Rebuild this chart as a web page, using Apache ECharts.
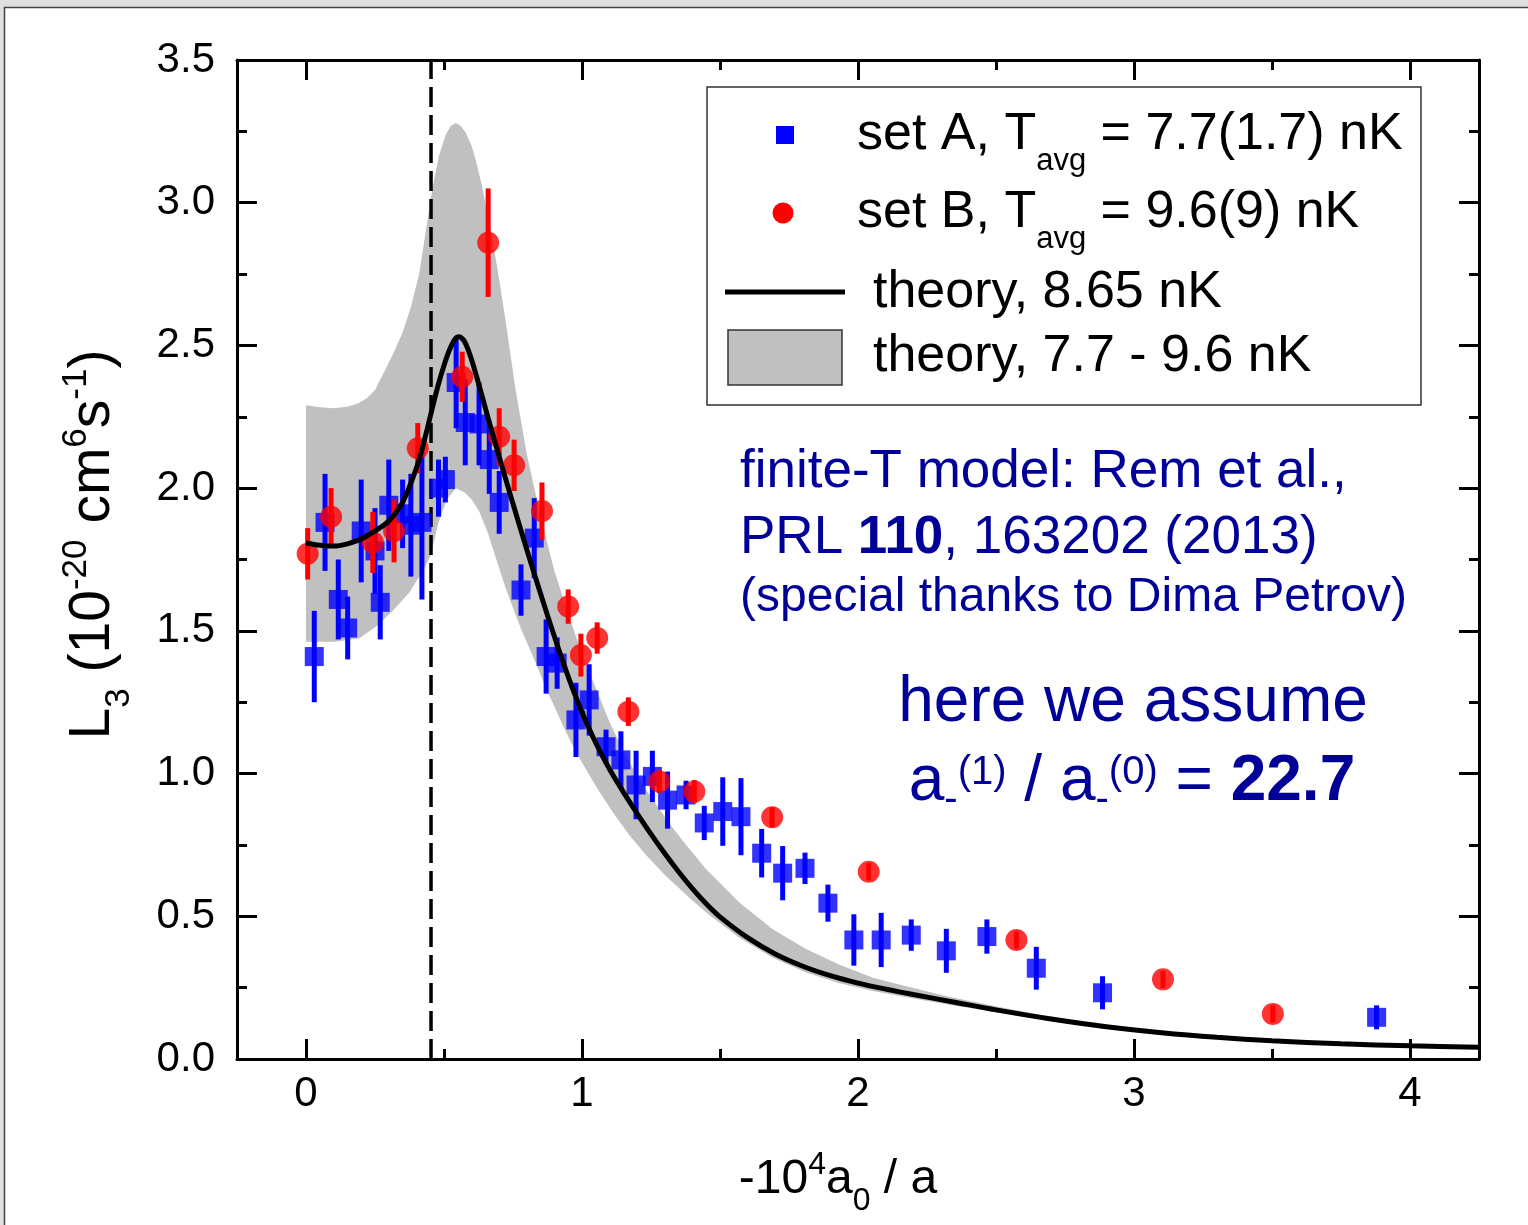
<!DOCTYPE html>
<html><head><meta charset="utf-8">
<script src="https://cdn.jsdelivr.net/npm/echarts@6/dist/echarts.min.js"></script>
<style>html,body{margin:0;padding:0;background:#fff}#c{width:1528px;height:1225px}</style>
</head><body><div id="c"></div><script>
// ---- data ----
const setAX   = [0.030,0.069,0.117,0.151,0.200,0.250,0.269,0.300,0.350,0.380,0.420,0.480,0.505,0.544,0.577,0.627,0.664,0.700,0.779,0.827,0.870,0.910,0.978,1.026,1.087,1.141,1.196,1.255,1.310,1.377,1.443,1.510,1.576,1.651,1.727,1.808,1.891,1.985,2.084,2.193,2.320,2.467,2.646,2.886,3.879];
const setAY   = [1.41,1.88,1.61,1.51,1.85,1.78,1.60,1.94,1.91,1.87,1.88,2.00,2.03,2.37,2.23,2.225,2.10,1.95,1.643,1.825,1.41,1.387,1.188,1.258,1.094,1.048,0.96,0.99,0.907,0.925,0.827,0.867,0.849,0.721,0.651,0.668,0.546,0.417,0.417,0.434,0.379,0.429,0.318,0.232,0.146];
const setAErr = [0.16,0.17,0.14,0.11,0.18,0.15,0.13,0.16,0.12,0.18,0.27,0.10,0.08,0.16,0.15,0.145,0.12,0.11,0.09,0.14,0.13,0.09,0.13,0.125,0.06,0.10,0.12,0.09,0.10,0.05,0.06,0.12,0.135,0.085,0.095,0.055,0.065,0.09,0.095,0.055,0.077,0.06,0.075,0.058,0.042];

const setBX   = [0.006,0.091,0.242,0.319,0.405,0.566,0.660,0.700,0.754,0.855,0.950,0.996,1.055,1.168,1.280,1.407,1.689,2.039,2.574,3.105,3.503];
const setBY   = [1.77,1.90,1.81,1.85,2.14,2.39,2.86,2.18,2.08,1.92,1.585,1.415,1.475,1.217,0.972,0.937,0.847,0.656,0.417,0.279,0.158];
const setBErr = [0.09,0.10,0.107,0.11,0.088,0.088,0.19,0.10,0.09,0.10,0.06,0.075,0.055,0.05,0.04,0.04,0.035,0.03,0.03,0.03,0.03];

const theoryX = [0,0.05,0.10,0.15,0.20,0.25,0.30,0.35,0.40,0.42,0.44,0.46,0.48,0.50,0.52,0.54,0.555,0.575,0.60,0.63,0.66,0.70,0.75,0.80,0.85,0.90,0.95,1.00,1.05,1.10,1.15,1.20,1.25,1.30,1.35,1.40,1.45,1.50,1.60,1.70,1.80,1.90,2.00,2.10,2.20,2.35,2.50,2.70,2.90,3.10,3.30,3.50,3.75,4.00,4.25];
const theoryY = [1.808,1.800,1.797,1.805,1.822,1.850,1.885,1.950,2.070,2.135,2.210,2.290,2.365,2.430,2.485,2.522,2.530,2.513,2.450,2.350,2.245,2.110,1.945,1.785,1.630,1.480,1.340,1.215,1.107,1.015,0.935,0.860,0.788,0.720,0.656,0.597,0.544,0.498,0.425,0.368,0.325,0.292,0.266,0.245,0.226,0.199,0.172,0.140,0.113,0.092,0.076,0.064,0.053,0.046,0.041];

const bandHiX = [0,0.05,0.10,0.15,0.19,0.22,0.25,0.29,0.32,0.35,0.38,0.41,0.434,0.458,0.482,0.507,0.525,0.543,0.56,0.579,0.60,0.615,0.635,0.652,0.67,0.688,0.705,0.724,0.76,0.80,0.85,0.90,0.95,1.00,1.05,1.10,1.159,1.232,1.316,1.365,1.45,1.57,1.691,1.812,1.933,2.054,2.175,2.33,2.513,2.70,2.876,3.05,3.238,3.45,3.662,4.00,4.25];
const bandHi  = [2.29,2.283,2.28,2.285,2.297,2.315,2.344,2.42,2.48,2.545,2.635,2.75,2.90,3.05,3.165,3.24,3.27,3.279,3.27,3.245,3.20,3.15,3.07,2.99,2.90,2.80,2.70,2.58,2.34,2.12,1.90,1.71,1.56,1.42,1.30,1.18,1.06,0.943,0.826,0.765,0.665,0.548,0.455,0.385,0.33,0.285,0.255,0.218,0.182,0.148,0.12,0.10,0.083,0.069,0.059,0.049,0.044];
const bandLoX = [0,0.109,0.193,0.254,0.314,0.375,0.417,0.45,0.48,0.51,0.543,0.575,0.60,0.627,0.66,0.688,0.72,0.748,0.78,0.809,0.84,0.869,0.90,0.93,0.96,0.99,1.051,1.111,1.171,1.232,1.30,1.40,1.45,1.57,1.691,1.812,1.933,2.054,2.175,2.33,2.513,2.70,2.876,3.05,3.238,3.45,3.662,4.00,4.25];
const bandLo  = [1.462,1.462,1.474,1.515,1.57,1.635,1.70,1.76,1.88,1.96,2.0,1.985,1.96,1.92,1.84,1.755,1.66,1.585,1.505,1.44,1.37,1.30,1.235,1.17,1.11,1.055,0.955,0.865,0.785,0.715,0.645,0.555,0.513,0.425,0.355,0.303,0.265,0.238,0.216,0.19,0.162,0.132,0.108,0.09,0.074,0.062,0.053,0.044,0.039];

const resonanceX = 0.453;
const xMajorTicks = [0,1,2,3,4];
const xMinorTicks = [0.5,1.5,2.5,3.5];

// ---- style ----
const FONT = "'Liberation Sans', Arial, sans-serif";
const NAVY = '#000099';

const chart = echarts.init(document.getElementById('c'), null, {renderer:'canvas'});

function errBar(color){
  return function(params, api){
    const x = api.value(0);
    const p1 = api.coord([x, api.value(1)]);
    const p2 = api.coord([x, api.value(2)]);
    return {type:'line', shape:{x1:p1[0], y1:p1[1], x2:p2[0], y2:p2[1]}, style:{stroke:color, lineWidth:5}};
  };
}

const baseX = {type:'value', min:-0.25, max:4.25, splitLine:{show:false}, gridIndex:0};
const lineSt = {color:'#000', width:3};

const option = {
  backgroundColor:'#fff',
  animation:false,
  textStyle:{fontFamily:FONT},
  grid:{left:237, right:49, top:60, bottom:166, outerBoundsMode:'none', containLabel:false},
  xAxis:[
    Object.assign({}, baseX, {position:'bottom',
      axisLine:{show:true, onZero:false, lineStyle:lineSt},
      axisTick:{show:true, inside:true, length:20, lineStyle:lineSt, customValues:xMajorTicks},
      axisLabel:{show:true, customValues:xMajorTicks, fontSize:42, color:'#000', margin:14, fontFamily:FONT},
      name:'{m|-10}{sp|4}{m|a}{sb|0}{m| / a}', nameLocation:'middle', nameGap:81,
      nameTextStyle:{padding:[0,40,0,0], rich:{
        m:{fontSize:48, lineHeight:80, color:'#000', fontFamily:FONT},
        sp:{fontSize:32, lineHeight:32, height:50, verticalAlign:'top', color:'#000', fontFamily:FONT},
        sb:{fontSize:32, lineHeight:32, height:37, verticalAlign:'bottom', color:'#000', fontFamily:FONT}
      }}
    }),
    Object.assign({}, baseX, {position:'bottom',
      axisLine:{show:false, onZero:false},
      axisTick:{show:true, inside:true, length:10, lineStyle:lineSt, customValues:xMinorTicks},
      axisLabel:{show:false}}),
    Object.assign({}, baseX, {position:'top',
      axisLine:{show:true, onZero:false, lineStyle:lineSt},
      axisTick:{show:true, inside:true, length:20, lineStyle:lineSt, customValues:xMajorTicks},
      axisLabel:{show:false}}),
    Object.assign({}, baseX, {position:'top',
      axisLine:{show:false, onZero:false},
      axisTick:{show:true, inside:true, length:10, lineStyle:lineSt, customValues:xMinorTicks},
      axisLabel:{show:false}})
  ],
  yAxis:[
    {type:'value', min:0, max:3.5, interval:0.5, position:'left',
      splitLine:{show:false}, minorSplitLine:{show:false},
      axisLine:{show:true, onZero:false, lineStyle:lineSt},
      axisTick:{show:true, inside:true, length:20, lineStyle:lineSt},
      minorTick:{show:true, splitNumber:2, length:10, lineStyle:lineSt},
      axisLabel:{fontSize:42, color:'#000', margin:22, fontFamily:FONT, formatter:v=>v.toFixed(1)},
      name:'{m|L}{sb|3}{m| (10}{sp|-20}{m| cm}{sp|6}{m|s}{sp|-1}{m|)}', nameLocation:'middle', nameGap:98, nameRotate:90,
      nameTextStyle:{padding:[0,0,0,30], rich:{
        m:{fontSize:57, lineHeight:92, color:'#000', fontFamily:FONT},
        sp:{fontSize:35, lineHeight:35, height:58, verticalAlign:'top', color:'#000', fontFamily:FONT},
        sb:{fontSize:35, lineHeight:35, height:40, verticalAlign:'bottom', color:'#000', fontFamily:FONT}
      }}
    },
    {type:'value', min:0, max:3.5, interval:0.5, position:'right',
      splitLine:{show:false}, minorSplitLine:{show:false},
      axisLine:{show:true, onZero:false, lineStyle:lineSt},
      axisTick:{show:true, inside:true, length:20, lineStyle:lineSt},
      minorTick:{show:true, splitNumber:2, length:10, lineStyle:lineSt},
      axisLabel:{show:false}}
  ],
  series:[
    {name:'theory, 7.7 - 9.6 nK', type:'custom', z:1, silent:true,
      data:[[0,0]],
      renderItem:function(params, api){
        const pts = [];
        bandHiX.forEach((x,i)=>pts.push(api.coord([x, bandHi[i]])));
        for (let i=bandLoX.length-1;i>=0;i--) pts.push(api.coord([bandLoX[i], bandLo[i]]));
        return {type:'polygon', shape:{points:pts}, style:{fill:'#c0c0c0', stroke:null}};
      }},
    {name:'resonance', type:'line', z:2, silent:true, symbol:'none',
      data:[[resonanceX,0],[resonanceX,3.5]],
      lineStyle:{color:'#000', width:3.5, type:[20,8]}},
    {name:'errA', type:'custom', z:3, silent:true,
      data:setAX.map((x,i)=>[x, setAY[i]-setAErr[i], setAY[i]+setAErr[i]]),
      encode:{x:0, y:[1,2]}, renderItem:errBar('#0000ff')},
    {name:'set A', type:'scatter', z:4, symbol:'rect', symbolSize:[19,19],
      itemStyle:{color:'#0000ff'},
      data:setAX.map((x,i)=>[x, setAY[i]])},
    {name:'errB', type:'custom', z:5, silent:true,
      data:setBX.map((x,i)=>[x, setBY[i]-setBErr[i], setBY[i]+setBErr[i]]),
      encode:{x:0, y:[1,2]}, renderItem:errBar('#ff0000')},
    {name:'set B', type:'scatter', z:6, symbol:'circle', symbolSize:22,
      itemStyle:{color:'#ff0000'},
      data:setBX.map((x,i)=>[x, setBY[i]])},
    {name:'theory, 8.65 nK', type:'line', z:7, symbol:'none', smooth:0.3,
      lineStyle:{color:'#000', width:5},
      data:theoryX.map((x,i)=>[x, theoryY[i]])}
  ],
  graphic:[
    // page frame
    {type:'rect', z:0, shape:{x:0,y:0,width:1528,height:7}, style:{fill:'#e0e0e0'}},
    {type:'rect', z:0, shape:{x:0,y:0,width:4,height:1225}, style:{fill:'#e0e0e0'}},
    {type:'line', shape:{x1:4,y1:7.5,x2:1528,y2:7.5}, style:{stroke:'#444', lineWidth:1.5}},
    {type:'line', shape:{x1:4.5,y1:7,x2:4.5,y2:1225}, style:{stroke:'#444', lineWidth:1.5}},
    // legend
    {type:'group', z:50, children:[
      {type:'rect', shape:{x:707,y:87,width:714,height:318}, style:{fill:'#fff', stroke:'#333', lineWidth:1.5}},
      {type:'rect', shape:{x:776,y:126,width:18,height:18}, style:{fill:'#0000ff'}},
      {type:'circle', shape:{cx:783,cy:213,r:10.5}, style:{fill:'#ff0000'}},
      {type:'line', shape:{x1:725,y1:292,x2:845,y2:292}, style:{stroke:'#000', lineWidth:5}},
      {type:'rect', shape:{x:728,y:330,width:114,height:55}, style:{fill:'#c0c0c0', stroke:'#333', lineWidth:1.5}},
      {type:'text', x:857, y:135, style:{text:'{m|set A, T}{s|avg}{m| = 7.7(1.7) nK}', verticalAlign:'middle',
        rich:{m:{fontSize:52, lineHeight:84, fontFamily:FONT, fill:'#000'}, s:{fontSize:31, lineHeight:42, verticalAlign:'bottom', fontFamily:FONT, fill:'#000'}}}},
      {type:'text', x:857, y:213, style:{text:'{m|set B, T}{s|avg}{m| = 9.6(9) nK}', verticalAlign:'middle',
        rich:{m:{fontSize:52, lineHeight:84, fontFamily:FONT, fill:'#000'}, s:{fontSize:31, lineHeight:42, verticalAlign:'bottom', fontFamily:FONT, fill:'#000'}}}},
      {type:'text', x:873, y:293, style:{text:'theory, 8.65 nK', verticalAlign:'middle', fontSize:52, fontFamily:FONT, fill:'#000'}},
      {type:'text', x:873, y:357, style:{text:'theory, 7.7 - 9.6 nK', verticalAlign:'middle', fontSize:52, fontFamily:FONT, fill:'#000'}}
    ]},
    // annotations
    {type:'text', z:50, x:740, y:472, style:{text:'finite-T model: Rem et al.,', verticalAlign:'middle', fontSize:53, fontFamily:FONT, fill:NAVY}},
    {type:'text', z:50, x:740, y:538, style:{text:'{m|PRL }{b|110}{m|, 163202 (2013)}', verticalAlign:'middle',
      rich:{m:{fontSize:53, fontFamily:FONT, fill:NAVY}, b:{fontSize:53, fontWeight:'bold', fontFamily:FONT, fill:NAVY}}}},
    {type:'text', z:50, x:740, y:598, style:{text:'(special thanks to Dima Petrov)', verticalAlign:'middle', fontSize:48, fontFamily:FONT, fill:NAVY}},
    {type:'text', z:50, x:1133, y:703, style:{text:'here we assume', align:'center', verticalAlign:'middle', fontSize:64, fontFamily:FONT, fill:NAVY}},
    {type:'text', z:50, x:1132, y:782, style:{text:'{m|a}{sb|-}{sp|(1)}{m| / a}{sb|-}{sp|(0)}{m| = }{b|22.7}', align:'center', verticalAlign:'middle',
      rich:{m:{fontSize:64, lineHeight:100, fontFamily:FONT, fill:NAVY},
            b:{fontSize:64, lineHeight:100, fontWeight:'bold', fontFamily:FONT, fill:NAVY},
            sp:{fontSize:40, lineHeight:40, height:81, verticalAlign:'top', fontFamily:FONT, fill:NAVY},
            sb:{fontSize:40, lineHeight:40, height:65, verticalAlign:'bottom', fontFamily:FONT, fill:NAVY}}}}
  ]
};
chart.setOption(option);
</script></body></html>
